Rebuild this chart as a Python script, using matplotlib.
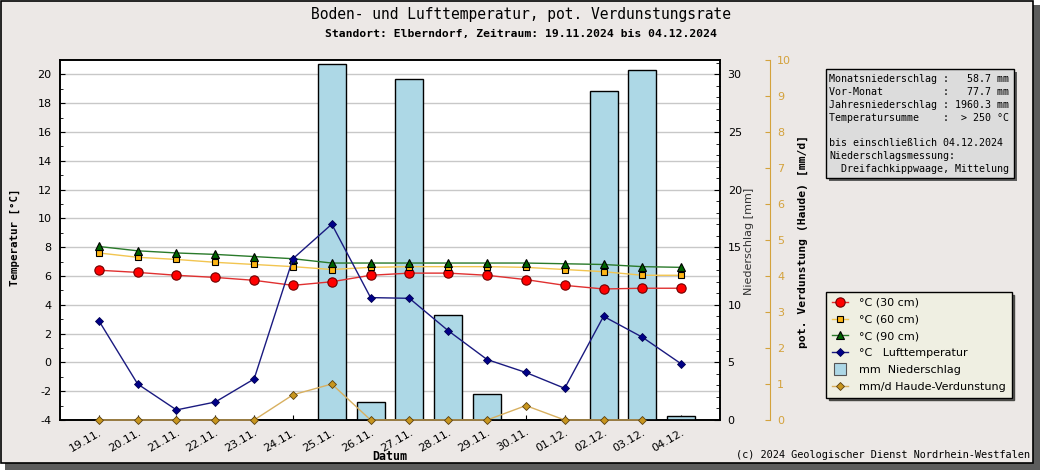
import numpy as np
import matplotlib
matplotlib.use("Agg")
import matplotlib.pyplot as plt
from matplotlib.patches import Rectangle
from matplotlib.lines import Line2D

plt.rcParams["axes.unicode_minus"] = False

# Daten
dates = ["19.11.", "20.11.", "21.11.", "22.11.", "23.11.", "24.11.", "25.11.", "26.11.",
         "27.11.", "28.11.", "29.11.", "30.11.", "01.12.", "02.12.", "03.12.", "04.12."]
t30 = [6.4, 6.25, 6.05, 5.9, 5.7, 5.35, 5.6, 6.05, 6.2, 6.2, 6.05, 5.75, 5.35, 5.1, 5.15, 5.15]
t60 = [7.6, 7.3, 7.15, 6.95, 6.8, 6.65, 6.45, 6.6, 6.65, 6.65, 6.65, 6.6, 6.45, 6.3, 6.05, 6.05]
t90 = [8.05, 7.75, 7.6, 7.5, 7.35, 7.2, 6.9, 6.9, 6.9, 6.9, 6.9, 6.9, 6.85, 6.8, 6.65, 6.6]
luft = [2.9, -1.5, -3.3, -2.75, -1.15, 7.2, 9.6, 4.5, 4.45, 2.2, 0.2, -0.7, -1.8, 3.2, 1.75, -0.1]
niederschlag = [0, 0, 0, 0, 0, 0, 30.9, 1.6, 29.6, 9.1, 2.3, 0, 0, 28.6, 30.4, 0.35]
verdunstung = [0, 0, 0, 0, 0, 0.7, 1.0, 0, 0, 0, 0, 0.4, 0, 0, 0, np.nan]

legend_labels = ["°C (30 cm)", "°C (60 cm)", "°C (90 cm)", "°C   Lufttemperatur",
                 "mm  Niederschlag", "mm/d Haude-Verdunstung"]
info_lines = ["Monatsniederschlag :   58.7 mm",
              "Vor-Monat          :   77.7 mm",
              "Jahresniederschlag : 1960.3 mm",
              "Temperatursumme    :  > 250 °C",
              "",
              "bis einschließlich 04.12.2024",
              "Niederschlagsmessung:",
              "  Dreifachkippwaage, Mittelung"]

W, H = 1040, 470
def fx(px):
    return px / W
def fy(py):
    return 1 - py / H

mono = "DejaVu Sans Mono"
orange = "#D4A23C"

fig = plt.figure(figsize=(10.4, 4.7), dpi=100)
fig.patch.set_facecolor("white")
# Hintergrund mit Schatten
fig.add_artist(Rectangle((fx(5), 0), fx(1035), 465 / H, transform=fig.transFigure,
                         facecolor="#5c5c5c", edgecolor="none", zorder=-10))
fig.add_artist(Rectangle((fx(1), fy(463)), fx(1032), 462 / H, transform=fig.transFigure,
                         facecolor="#ECE8E6", edgecolor="black", lw=1.2, zorder=-9))

x = np.arange(len(dates))

ax = fig.add_axes([fx(60), 50 / H, fx(660), 360 / H])
ax.set_facecolor("white")
ax.set_xlim(-1, 16)
ax.set_ylim(-4, 21)
ax.set_yticks(np.arange(-4, 21, 2))
ax.set_yticks(np.arange(-4, 22, 1), minor=True)
ax.grid(axis="y", which="major", color="#C8C8C8", lw=1)
ax.set_axisbelow(True)
ax.tick_params(axis="y", which="major", direction="in", length=3.5, labelsize=8, pad=6)
ax.tick_params(axis="y", which="minor", direction="in", length=2)
ax.set_xticks(x)
ax.set_xticklabels(dates, rotation=30, ha="right", rotation_mode="anchor")
ax.tick_params(axis="x", direction="in", length=3.5, labelsize=8, pad=5)
for s in ax.spines.values():
    s.set_linewidth(1.2)

# Niederschlag
ax2 = ax.twinx()
ax2.set_ylim(0, 31.25)
ax2.bar(x, niederschlag, width=0.72, color="#ADD8E6", edgecolor="black", lw=1)
ax2.set_yticks(np.arange(0, 31, 5))
ax2.set_yticks(np.arange(0, 32, 1), minor=True)
ax2.tick_params(axis="y", which="major", direction="in", length=4, labelsize=8, pad=5.5)
ax2.tick_params(axis="y", which="minor", direction="in", length=2.8)
for s in ax2.spines.values():
    s.set_linewidth(1.2)

# Temperaturen
axt = ax.twinx()
axt.set_ylim(-4, 21)
axt.axis("off")
h30, = axt.plot(x, t30, color="#E03030", lw=1, marker="o", ms=6.7, mfc="#FF0000", mec="#700000", mew=0.8)
h60, = axt.plot(x, t60, color="#F2C550", lw=1, marker="s", ms=4.8, mfc="#FDB515", mec="black", mew=0.8)
h90, = axt.plot(x, t90, color="#2A7A2A", lw=1, marker="^", ms=5.8, mfc="#006400", mec="black", mew=0.8)
hl, = axt.plot(x, luft, color="#1A1A80", lw=1, marker="D", ms=4.2, mfc="#000088", mec="#000050", mew=0.6)

# Verdunstung
ax3 = ax.twinx()
ax3.set_ylim(0, 10)
for k in ["left", "top", "bottom"]:
    ax3.spines[k].set_visible(False)
ax3.spines["right"].set_position(("outward", 36))
ax3.spines["right"].set_color(orange)
ax3.set_yticks(np.arange(0, 11, 1))
ax3.tick_params(axis="y", direction="in", length=3.6, color=orange, labelcolor=orange,
                labelsize=8, pad=5)
hv, = ax3.plot(x, verdunstung, color="#D8B060", lw=1, marker="D", ms=4.5,
               mfc="#C8961E", mec="#5a4010", mew=0.6, clip_on=False)

# Texte
fig.text(fx(521), fy(15), "Boden- und Lufttemperatur, pot. Verdunstungsrate",
         family=mono, size=10.5, ha="center", va="center")
fig.text(fx(521), fy(34), "Standort: Elberndorf, Zeitraum: 19.11.2024 bis 04.12.2024",
         family=mono, weight="bold", size=8.2, ha="center", va="center")
fig.text(fx(15), fy(237), "Temperatur [°C]", family=mono, weight="bold", size=7.8,
         rotation=90, ha="center", va="center")
fig.text(fx(390), fy(457), "Datum", family=mono, weight="bold", size=8.4,
         ha="center", va="center")
fig.text(fx(749), fy(241), "Niederschlag [mm]", size=8, color="#333333",
         rotation=90, ha="center", va="center")
fig.text(fx(803), fy(241), "pot. Verdunstung (Haude) [mm/d]", family=mono, weight="bold",
         size=8.2, rotation=90, ha="center", va="center")
fig.text(fx(1030), fy(455), "(c) 2024 Geologischer Dienst Nordrhein-Westfalen",
         family=mono, size=7.4, ha="right", va="center")

# Infobox
fig.add_artist(Rectangle((fx(829), fy(181)), fx(188), 109 / H, transform=fig.transFigure,
                         facecolor="#5c5c5c", edgecolor="none", zorder=1))
fig.add_artist(Rectangle((fx(826), fy(178)), fx(188), 109 / H, transform=fig.transFigure,
                         facecolor="#DCDCDC", edgecolor="black", lw=1, zorder=2))
for i, line in enumerate(info_lines):
    fig.text(fx(829), fy(79 + i * 12.9), line, family=mono, size=7.2,
             ha="left", va="center", zorder=3)

# Legende
hn = Line2D([], [], ls="none", marker="s", ms=8, mfc="#ADD8E6", mec="#555555", mew=0.8)
leg = fig.legend([h30, h60, h90, hl, hn, hv], legend_labels, loc="upper left",
                 bbox_to_anchor=(fx(826), fy(292)), borderaxespad=0, fontsize=8,
                 frameon=True, fancybox=False, edgecolor="black", facecolor="#EFEFE2",
                 framealpha=1, shadow={"facecolor": "#5c5c5c", "alpha": 1},
                 handlelength=1.5, handletextpad=1.0, borderpad=0.5, labelspacing=0.62)
leg.get_frame().set_linewidth(1)

fig.savefig("out.png", dpi=100, facecolor=fig.get_facecolor())
